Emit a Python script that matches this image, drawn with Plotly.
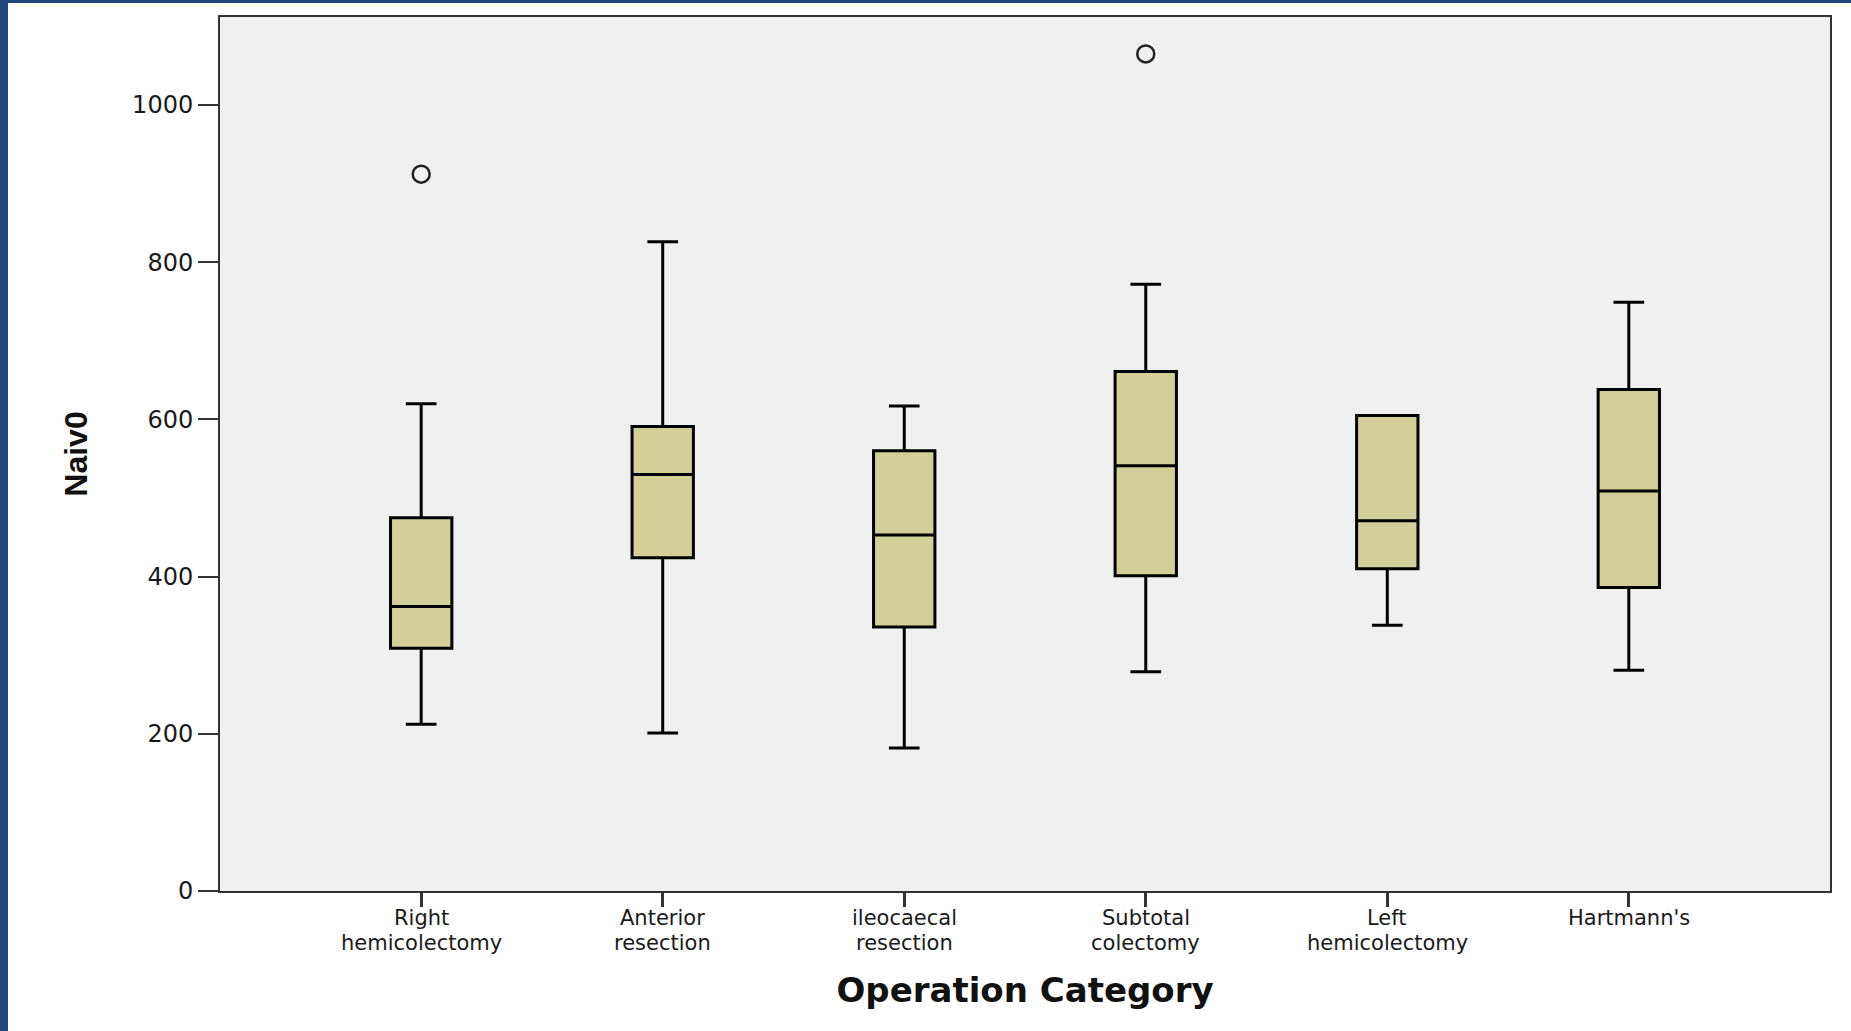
import plotly.graph_objects as go

# Summary statistics of Naiv0 by operation category
categories = ["Right hemicolectomy", "Anterior resection", "ileocaecal resection",
              "Subtotal colectomy", "Left hemicolectomy", "Hartmann's"]
tick_lines = [["Right", "hemicolectomy"], ["Anterior", "resection"], ["ileocaecal", "resection"],
              ["Subtotal", "colectomy"], ["Left", "hemicolectomy"], ["Hartmann's"]]
lower_fence = [212, 201, 182, 279, 338, 281]
q1_vals = [309, 424, 336, 401, 410, 386]
medians = [362, 530, 453, 541, 471, 509]
q3_vals = [475, 591, 560, 661, 605, 638]
upper_fence = [620, 826, 617, 772, 605, 749]

# Outlying observations
outlier_cats = ["Right hemicolectomy", "Subtotal colectomy"]
outlier_vals = [912, 1065]

y_ticks = [0, 200, 400, 600, 800, 1000]

W, H = 1851, 1031
ML, MR, MT, MB = 220, 21, 17, 140
PW, PH = W - ML - MR, H - MT - MB

fig = go.Figure()
fig.add_trace(go.Box(
    x=categories,
    q1=q1_vals, median=medians, q3=q3_vals,
    lowerfence=lower_fence, upperfence=upper_fence,
    width=0.254, whiskerwidth=0.5,
    fillcolor="#d3cf98",
    line=dict(color="#000000", width=3),
    boxpoints=False, showlegend=False, hoverinfo="skip",
))
fig.add_trace(go.Scatter(
    x=outlier_cats, y=outlier_vals, mode="markers",
    marker=dict(symbol="circle-open", size=17, color="#222222", line=dict(width=2.5)),
    showlegend=False, hoverinfo="skip",
))

# Category labels, stacked in two lines under each tick
for cat, lines in zip(categories, tick_lines):
    for i, line in enumerate(lines):
        fig.add_annotation(
            x=cat, xref="x", y=0, yref="paper",
            text=line, showarrow=False,
            xanchor="center", yanchor="middle",
            yshift=-27 - 25 * i,
            font=dict(size=21, family="DejaVu Sans, Arial, sans-serif", color="#1a1a1a"),
        )

# Blue frame on the left and top edges of the page
def px_x(p):
    return (p - ML) / PW

def px_y(p):
    return 1 - (p - MT) / PH

fig.add_shape(type="rect", xref="paper", yref="paper",
              x0=px_x(0), x1=px_x(8), y0=px_y(H), y1=px_y(0),
              fillcolor="#1f497d", line_width=0, layer="above")
fig.add_shape(type="rect", xref="paper", yref="paper",
              x0=px_x(0), x1=px_x(W), y0=px_y(3), y1=px_y(0),
              fillcolor="#1f497d", line_width=0, layer="above")

fig.update_layout(
    width=W, height=H,
    margin=dict(l=ML, r=MR, t=MT, b=MB),
    paper_bgcolor="#ffffff",
    plot_bgcolor="#f0f0f0",
    font=dict(family="DejaVu Sans, Arial, sans-serif", color="#1a1a1a"),
    xaxis=dict(
        type="category",
        range=[-0.833, 5.833],
        showgrid=False, zeroline=False,
        showline=True, linecolor="#333333", linewidth=2, mirror=True,
        ticks="outside", ticklen=14, tickwidth=2.5, tickcolor="#333333",
        showticklabels=False,
        title=dict(text="<b>Operation Category</b>",
                   font=dict(size=34, family="DejaVu Sans, Arial, sans-serif", color="#111111"),
                   standoff=72),
    ),
    yaxis=dict(
        range=[0, 1112],
        tickvals=y_ticks,
        showgrid=False, zeroline=False,
        showline=True, linecolor="#333333", linewidth=2, mirror=True,
        ticks="outside", ticklen=20, tickwidth=2, tickcolor="#333333",
        tickfont=dict(size=24, color="#1a1a1a"),
        title=dict(text="<b>Naiv0</b>",
                   font=dict(size=32, family="Liberation Sans Narrow, Arial Narrow, Liberation Sans, sans-serif",
                             color="#111111"),
                   standoff=35),
    ),
)

fig.write_html("out.html")
